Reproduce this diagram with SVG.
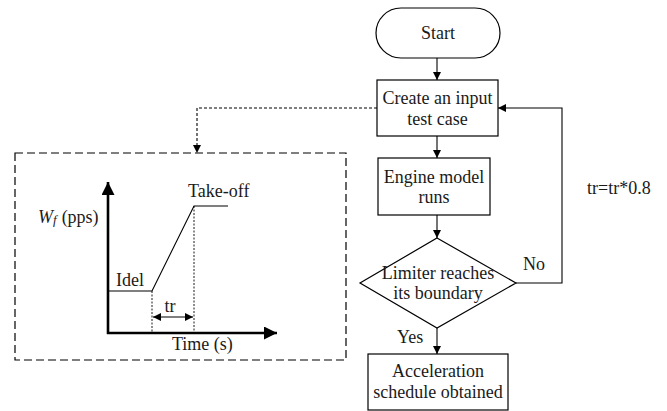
<svg xmlns="http://www.w3.org/2000/svg" width="667" height="411" viewBox="0 0 667 411">
<defs>
<marker id="ah" viewBox="0 0 10 10" refX="10" refY="5" markerWidth="9" markerHeight="8" markerUnits="userSpaceOnUse" orient="auto"><path d="M0,0 L10,5 L0,10 Z" fill="#000"/></marker>
<marker id="ahs" viewBox="0 0 10 10" refX="10" refY="5" markerWidth="10" markerHeight="8" markerUnits="userSpaceOnUse" orient="auto-start-reverse"><path d="M0,0 L10,5 L0,10 Z" fill="#000"/></marker>
<marker id="big" viewBox="0 0 10 10" refX="10" refY="5" markerWidth="17" markerHeight="13" markerUnits="userSpaceOnUse" orient="auto"><path d="M0,0 L10,5 L0,10 Z" fill="#000"/></marker>
</defs>
<style>
text{font-family:"Liberation Serif","Times New Roman",serif;font-size:18px;fill:#1a1a1a}
.c{text-anchor:middle}
.box{fill:#fff;stroke:#000;stroke-width:1.2}
.ln{fill:none;stroke:#000;stroke-width:1.1}
.dot{fill:none;stroke:#000;stroke-width:0.9;stroke-dasharray:2,1.5}
</style>
<rect width="667" height="411" fill="#fff"/>

<g id="connectors">
<line class="ln" x1="437" y1="58" x2="437" y2="80" marker-end="url(#ah)"/>
<line class="ln" x1="437" y1="136" x2="437" y2="158" marker-end="url(#ah)"/>
<line class="ln" x1="437" y1="215" x2="437" y2="238" marker-end="url(#ah)"/>
<line class="ln" x1="437" y1="328" x2="437" y2="354" marker-end="url(#ah)"/>
<polyline class="ln" points="516,283 562,283 562,108 498,108" marker-end="url(#ah)"/>
<polyline class="ln" points="377,108 197,108 197,153" stroke-dasharray="3,2" marker-end="url(#ah)"/>
<text x="523" y="270">No</text>
<text x="397" y="343">Yes</text>
<text x="587" y="194">tr=tr*0.8</text>
</g>

<g id="start">
<rect class="box" x="376" y="8" width="124" height="50" rx="25" ry="25"/>
<text class="c" x="438" y="39">Start</text>
</g>
<g id="create">
<rect class="box" x="377" y="80" width="121" height="56"/>
<text class="c" x="437.5" y="104">Create an input</text>
<text class="c" x="437.5" y="125">test case</text>
</g>
<g id="engine">
<rect class="box" x="378" y="158" width="112" height="57"/>
<text class="c" x="434" y="183">Engine model</text>
<text class="c" x="434" y="203">runs</text>
</g>
<g id="limiter">
<polygon class="box" points="437,238 516,283 437,328 360,283"/>
<text class="c" x="438" y="279">Limiter reaches</text>
<text class="c" x="438" y="299">its boundary</text>
</g>
<g id="result">
<rect class="box" x="368" y="354" width="140" height="56"/>
<text class="c" x="438" y="377">Acceleration</text>
<text class="c" x="438" y="398">schedule obtained</text>
</g>

<g id="test-case-plot">
<rect x="15" y="153" width="331" height="207" fill="none" stroke="#000" stroke-width="1.2" stroke-dasharray="8,4"/>
<line x1="108" y1="334" x2="108" y2="182" stroke="#000" stroke-width="2.6" marker-end="url(#big)"/>
<line x1="107" y1="333" x2="277" y2="333" stroke="#000" stroke-width="2.6" marker-end="url(#big)"/>
<polyline class="ln" points="108,291 152,291 194,206 228,206" stroke="#333" stroke-width="1.3"/>
<line class="dot" x1="152" y1="291" x2="152" y2="332"/>
<line class="dot" x1="194" y1="206" x2="194" y2="332"/>
<line class="ln" x1="153" y1="317" x2="193" y2="317" marker-start="url(#ahs)" marker-end="url(#ahs)"/>
<text class="c" x="170" y="312">tr</text>
<text x="116" y="286">Idel</text>
<text x="188" y="197">Take-off</text>
<text x="172" y="350">Time (s)</text>
<text x="38" y="223"><tspan font-style="italic">W</tspan><tspan font-style="italic" font-size="13" dy="1">f</tspan><tspan dy="-1" dx="5">(pps)</tspan></text>
</g>
</svg>
